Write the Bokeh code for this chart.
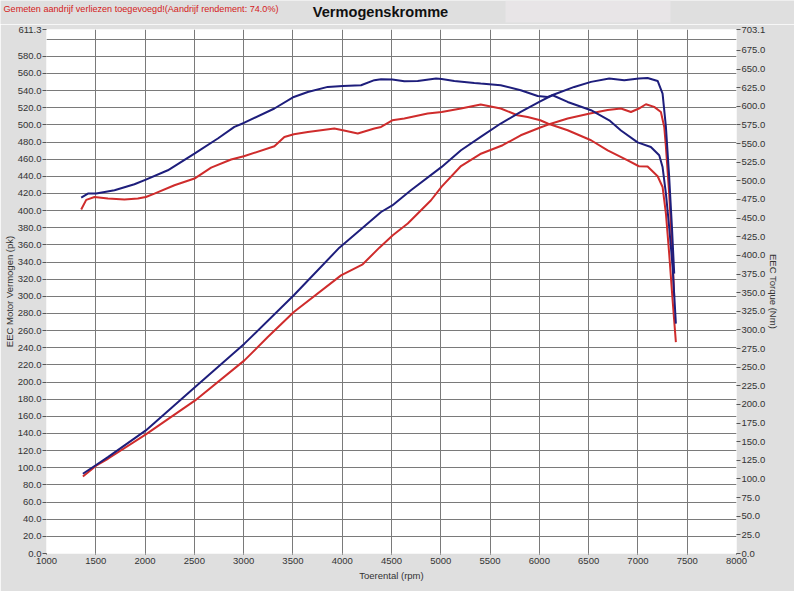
from bokeh.plotting import figure
from bokeh.models import (Range1d, LinearAxis, FixedTicker, PrintfTickFormatter)
from bokeh.layouts import column
from bokeh.core.properties import value
from bokeh.embed import file_html
from bokeh.resources import INLINE

# ---------------- data ----------------
blue_power_rpm = [1369, 1507, 1623, 2008, 2508, 3008, 3509, 3971, 4208, 4394, 4508, 4697, 5009,
                  5205, 5405, 5608, 5811, 5999, 6135, 6354, 6524, 6709, 6861, 7010, 7098, 7200,
                  7250, 7284, 7317, 7345, 7368]
blue_power_pk = [93.0, 103.5, 112.4, 143.6, 194.1, 244.8, 301.2, 356.8, 380.0, 398.4, 406.0, 423.7,
                 451.0, 470.4, 486.0, 501.6, 515.2, 526.9, 534.9, 544.3, 550.2, 554.1, 552.1, 554.1,
                 554.8, 551.3, 536.6, 497.6, 439.3, 380.9, 326.5]

blue_torque_rpm = [1352, 1420, 1504, 1690, 1892, 2008, 2231, 2501, 2738, 2906, 3002, 3312, 3509,
                   3651, 3853, 4006, 4191, 4326, 4394, 4508, 4630, 4766, 4952, 5009, 5137, 5340,
                   5405, 5608, 5811, 5983, 6084, 6135, 6287, 6524, 6709, 6828, 6997, 7131, 7216,
                   7250, 7284, 7317, 7352, 7385]
blue_torque_nm = [477.6, 482.9, 482.9, 487.4, 495.4, 501.7, 514.2, 536.6, 556.8, 572.4, 577.7,
                  597.1, 612.6, 619.3, 626.1, 627.4, 628.3, 635.1, 636.4, 636.0, 633.7, 634.1,
                  637.3, 636.8, 634.1, 631.4, 630.6, 628.4, 621.6, 613.9, 612.6, 614.9, 605.9,
                  594.8, 581.3, 567.6, 551.6, 545.5, 534.3, 518.6, 482.9, 438.1, 384.4, 308.4]

red_power_rpm = [1369, 1507, 1623, 2008, 2508, 3008, 3245, 3509, 3988, 4208, 4377, 4513, 4665,
                 4901, 5009, 5205, 5400, 5628, 5811, 6009, 6084, 6287, 6513, 6693, 6828, 6929,
                 7010, 7081, 7165, 7233, 7267, 7284, 7317, 7345, 7368]
red_power_pk = [89.9, 102.7, 110.5, 138.9, 178.6, 225.3, 252.5, 281.7, 324.5, 337.4, 356.8, 371.2,
                384.9, 412.1, 428.0, 452.0, 466.0, 476.3, 487.9, 497.0, 500.1, 507.4, 513.3, 517.3,
                519.1, 515.1, 519.1, 524.1, 521.0, 515.1, 497.6, 474.3, 419.9, 361.5, 299.2]

red_torque_rpm = [1352, 1403, 1487, 1623, 1791, 1927, 2008, 2095, 2298, 2501, 2670, 2873, 3002,
                  3312, 3413, 3509, 3651, 3920, 4006, 4158, 4326, 4394, 4508, 4630, 4867, 5009,
                  5205, 5405, 5608, 5777, 5881, 6009, 6084, 6287, 6524, 6693, 6896, 7010, 7098,
                  7200, 7250, 7284, 7317, 7352, 7385]
red_torque_nm = [461.5, 474.5, 478.4, 476.2, 474.9, 476.2, 478.4, 482.9, 494.1, 503.1, 517.8,
                 528.6, 533.0, 546.4, 558.9, 562.6, 565.6, 570.2, 567.9, 563.5, 570.2, 572.4,
                 581.3, 583.6, 590.3, 592.5, 597.1, 602.4, 597.1, 588.1, 585.8, 581.3, 577.0,
                 567.9, 554.5, 540.9, 527.4, 519.6, 519.2, 506.2, 491.8, 456.1, 402.4, 339.7,
                 283.7]

x_ticks = list(range(1000, 8001, 500))
left_ticks = [float(v) for v in range(0, 581, 20)] + [611.3]
left_grid = [float(v) for v in range(0, 601, 20)] + [611.3]
right_ticks = [float(v) for v in range(0, 676, 25)] + [703.1]

title_text = "Vermogenskromme"
note_text = "Gemeten aandrijf verliezen toegevoegd!(Aandrijf rendement: 74.0%)"
x_label = "Toerental (rpm)"
left_label = "EEC Motor Vermogen (pk)"
right_label = "EEC Torque (Nm)"

# ---------------- styling ----------------
FONT = "Liberation Sans"
BG = "#dfdfdf"
BLUE = "#1e1e7c"
RED = "#cf2c2c"
GRID = "#7a7a7a"
TXT = "#333333"
W = 794
HEAD_H = 24


def no_align(fig):
    if "frame_align" in fig.properties():
        fig.frame_align = False


# ---------------- header strip ----------------
head = figure(width=W, height=HEAD_H, output_backend="svg", toolbar_location=None,
              x_range=Range1d(0, W), y_range=Range1d(HEAD_H, 0),
              min_border=0, min_border_left=0, min_border_right=0,
              min_border_top=0, min_border_bottom=0,
              x_axis_type=None, y_axis_type=None)
no_align(head)
head.background_fill_color = BG
head.border_fill_color = BG
head.outline_line_color = None
head.grid.visible = False
head.quad(left=[505], right=[670], top=[0], bottom=[22], fill_color="#e8e5e7", line_color=None)
head.text(x=[3], y=[8], text=[note_text], text_font=value(FONT), text_font_size="9.1px",
          text_color="#d42020", text_align="left", text_baseline="middle")
head.text(x=[380], y=[11], text=[title_text], text_font=value(FONT), text_font_size="14.6px",
          text_font_style="bold", text_color="#111111", text_align="center",
          text_baseline="middle")

# ---------------- main chart ----------------
p = figure(width=W, height=591 - HEAD_H, output_backend="svg", toolbar_location=None,
           x_range=Range1d(1000, 8000), y_range=Range1d(0, 611.3),
           min_border_left=45, min_border_right=58, min_border_top=29 - HEAD_H,
           min_border_bottom=38)
no_align(p)
p.extra_y_ranges = {"nm": Range1d(0, 703.1)}
p.background_fill_color = "white"
p.border_fill_color = BG
p.outline_line_color = None

p.xgrid.ticker = FixedTicker(ticks=x_ticks)
p.ygrid.ticker = FixedTicker(ticks=left_grid)
for g in (p.xgrid, p.ygrid):
    g.grid_line_color = GRID
    g.grid_line_width = 1

xa = p.xaxis[0]
xa.ticker = FixedTicker(ticks=x_ticks)
xa.axis_label = x_label

ya = p.yaxis[0]
ya.ticker = FixedTicker(ticks=left_ticks)
ya.formatter = PrintfTickFormatter(format="%.1f")
ya.axis_label = left_label

ra = LinearAxis(y_range_name="nm", ticker=FixedTicker(ticks=right_ticks),
                formatter=PrintfTickFormatter(format="%.1f"), axis_label=right_label)
p.add_layout(ra, "right")

for ax in (xa, ya, ra):
    ax.axis_line_color = None
    ax.major_tick_line_color = "#555555"
    ax.minor_tick_line_color = None
    ax.major_tick_in = 0
    ax.major_tick_out = 4
    ax.major_label_text_font = FONT
    ax.major_label_text_font_size = "9.5px"
    ax.major_label_text_color = TXT
    ax.major_label_standoff = 1
    ax.axis_label_text_font = FONT
    ax.axis_label_text_font_size = "9.5px"
    ax.axis_label_text_font_style = "normal"
    ax.axis_label_text_color = TXT
    ax.axis_label_standoff = 0
xa.major_tick_out = 1
xa.major_label_standoff = 3
xa.axis_label_standoff = 3

p.line(red_torque_rpm, red_torque_nm, y_range_name="nm", line_color=RED, line_width=2)
p.line(red_power_rpm, red_power_pk, line_color=RED, line_width=2)
p.line(blue_torque_rpm, blue_torque_nm, y_range_name="nm", line_color=BLUE, line_width=2)
p.line(blue_power_rpm, blue_power_pk, line_color=BLUE, line_width=2)

layout = column(head, p, spacing=0)

open("out.html", "w").write(file_html(layout, INLINE))
